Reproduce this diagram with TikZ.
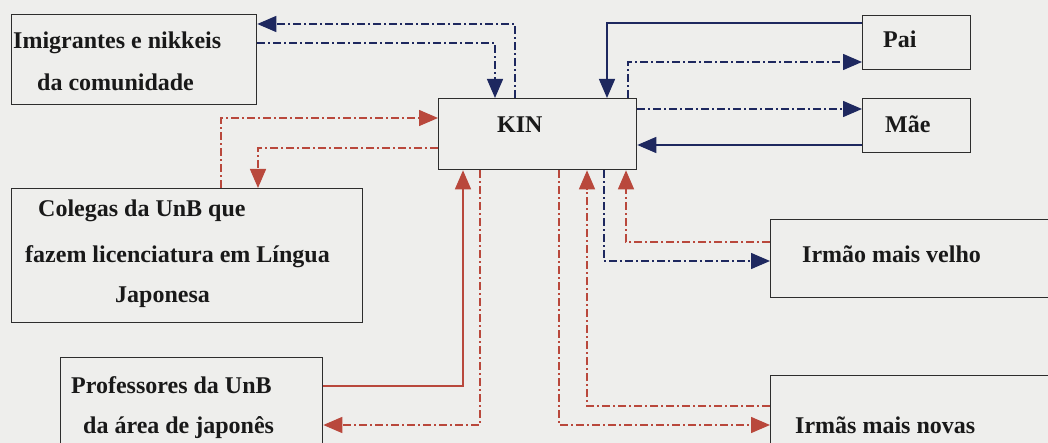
\documentclass[tikz,border=0pt]{standalone}
\usepackage{fontspec}
\setmainfont{Liberation Serif}[BoldFont={Liberation Serif Bold}]
\usetikzlibrary{arrows.meta}
\definecolor{navyc}{RGB}{30,40,95}
\definecolor{redc}{RGB}{185,72,60}
\definecolor{boxc}{RGB}{45,45,45}
\definecolor{bgc}{RGB}{238,238,236}
\tikzset{
  boxnode/.style={draw=boxc, line width=1.3pt, inner sep=0pt, anchor=north west},
  lbl/.style={anchor=base west, inner sep=0pt, font=\fontsize{24}{29}\selectfont\bfseries, text=black!90},
  tip/.style={-{Triangle[length=19pt,width=16pt]}},
  dd/.style={line width=1.4pt, dash pattern=on 8pt off 3pt on 2pt off 3pt},
  bluedd/.style={dd, draw=navyc, tip},
  redd/.style={dd, draw=redc, tip},
  bluesolid/.style={line width=1.4pt, draw=navyc, tip},
  redsolid/.style={line width=1.4pt, draw=redc, tip},
}
\begin{document}
\begin{tikzpicture}[x=1pt,y=-1pt]
\useasboundingbox (0,0) rectangle (1048,443);
\fill[bgc] (0,0) rectangle (1048,443);
\clip (0,0) rectangle (1048,443);
% boxes
\node[boxnode, minimum width=245pt, minimum height=90pt] (imig) at (11,14) {};
\node[boxnode, minimum width=198pt, minimum height=71pt] (kin) at (438,98) {};
\node[boxnode, minimum width=108pt, minimum height=54pt] (pai) at (862,15) {};
\node[boxnode, minimum width=108pt, minimum height=54pt] (mae) at (862,98) {};
\node[boxnode, minimum width=351pt, minimum height=134pt] (col) at (11,188) {};
\node[boxnode, minimum width=262pt, minimum height=100pt] (prof) at (60,357) {};
\node[boxnode, minimum width=300pt, minimum height=78pt] (irmao) at (770,219) {};
\node[boxnode, minimum width=300pt, minimum height=100pt] (irmas) at (770,375) {};
% labels
\node[lbl] (t1) at (13,49) {Imigrantes e nikkeis};
\node[lbl] (t2) at (37,91) {da comunidade};
\node[lbl] (t3) at (497,133) {KIN};
\node[lbl] (t4) at (883,48) {Pai};
\node[lbl] (t5) at (885,133) {Mãe};
\node[lbl] (t6) at (38,217) {Colegas da UnB que};
\node[lbl] (t7) at (25,262) {fazem licenciatura em Língua};
\node[lbl] (t8) at (115,302) {Japonesa};
\node[lbl] (t9) at (71,393) {Professores da UnB};
\node[lbl] (t10) at (83,433) {da área de japonês};
\node[lbl] (t11) at (802,262) {Irmão mais velho};
\node[lbl] (t12) at (795,433) {Irmãs mais novas};
% blue connectors
\draw[bluedd] ([xshift=77pt]kin.north west) |- ([yshift=-10pt]imig.north east);
\draw[bluedd] ([yshift=-29pt]imig.north east) -| ([xshift=57pt]kin.north west);
\draw[bluesolid] ([yshift=-8pt]pai.north west) -| ([xshift=169pt]kin.north west);
\draw[bluedd] ([xshift=190pt]kin.north west) |- ([yshift=-47pt]pai.north west);
\draw[bluedd] ([yshift=-11pt]kin.north east) -- ([yshift=-11pt]mae.north west);
\draw[bluesolid] ([yshift=-47pt]mae.north west) -- ([yshift=-47pt]kin.north east);
\draw[bluedd] ([xshift=166pt]kin.south west) |- ([yshift=-42pt]irmao.north west);
% red connectors
\draw[redd] ([xshift=210pt]col.north west) |- ([yshift=-20pt]kin.north west);
\draw[redd] ([yshift=-50pt]kin.north west) -| ([xshift=247pt]col.north west);
\draw[redsolid] ([yshift=-29pt]prof.north east) -| ([xshift=25pt]kin.south west);
\draw[redd] ([xshift=42pt]kin.south west) |- ([yshift=-68pt]prof.north east);
\draw[redd] ([yshift=-23pt]irmao.north west) -| ([xshift=188pt]kin.south west);
\draw[redd] ([yshift=-31pt]irmas.north west) -| ([xshift=149pt]kin.south west);
\draw[redd] ([xshift=121pt]kin.south west) |- ([yshift=-50pt]irmas.north west);
\end{tikzpicture}
\end{document}
